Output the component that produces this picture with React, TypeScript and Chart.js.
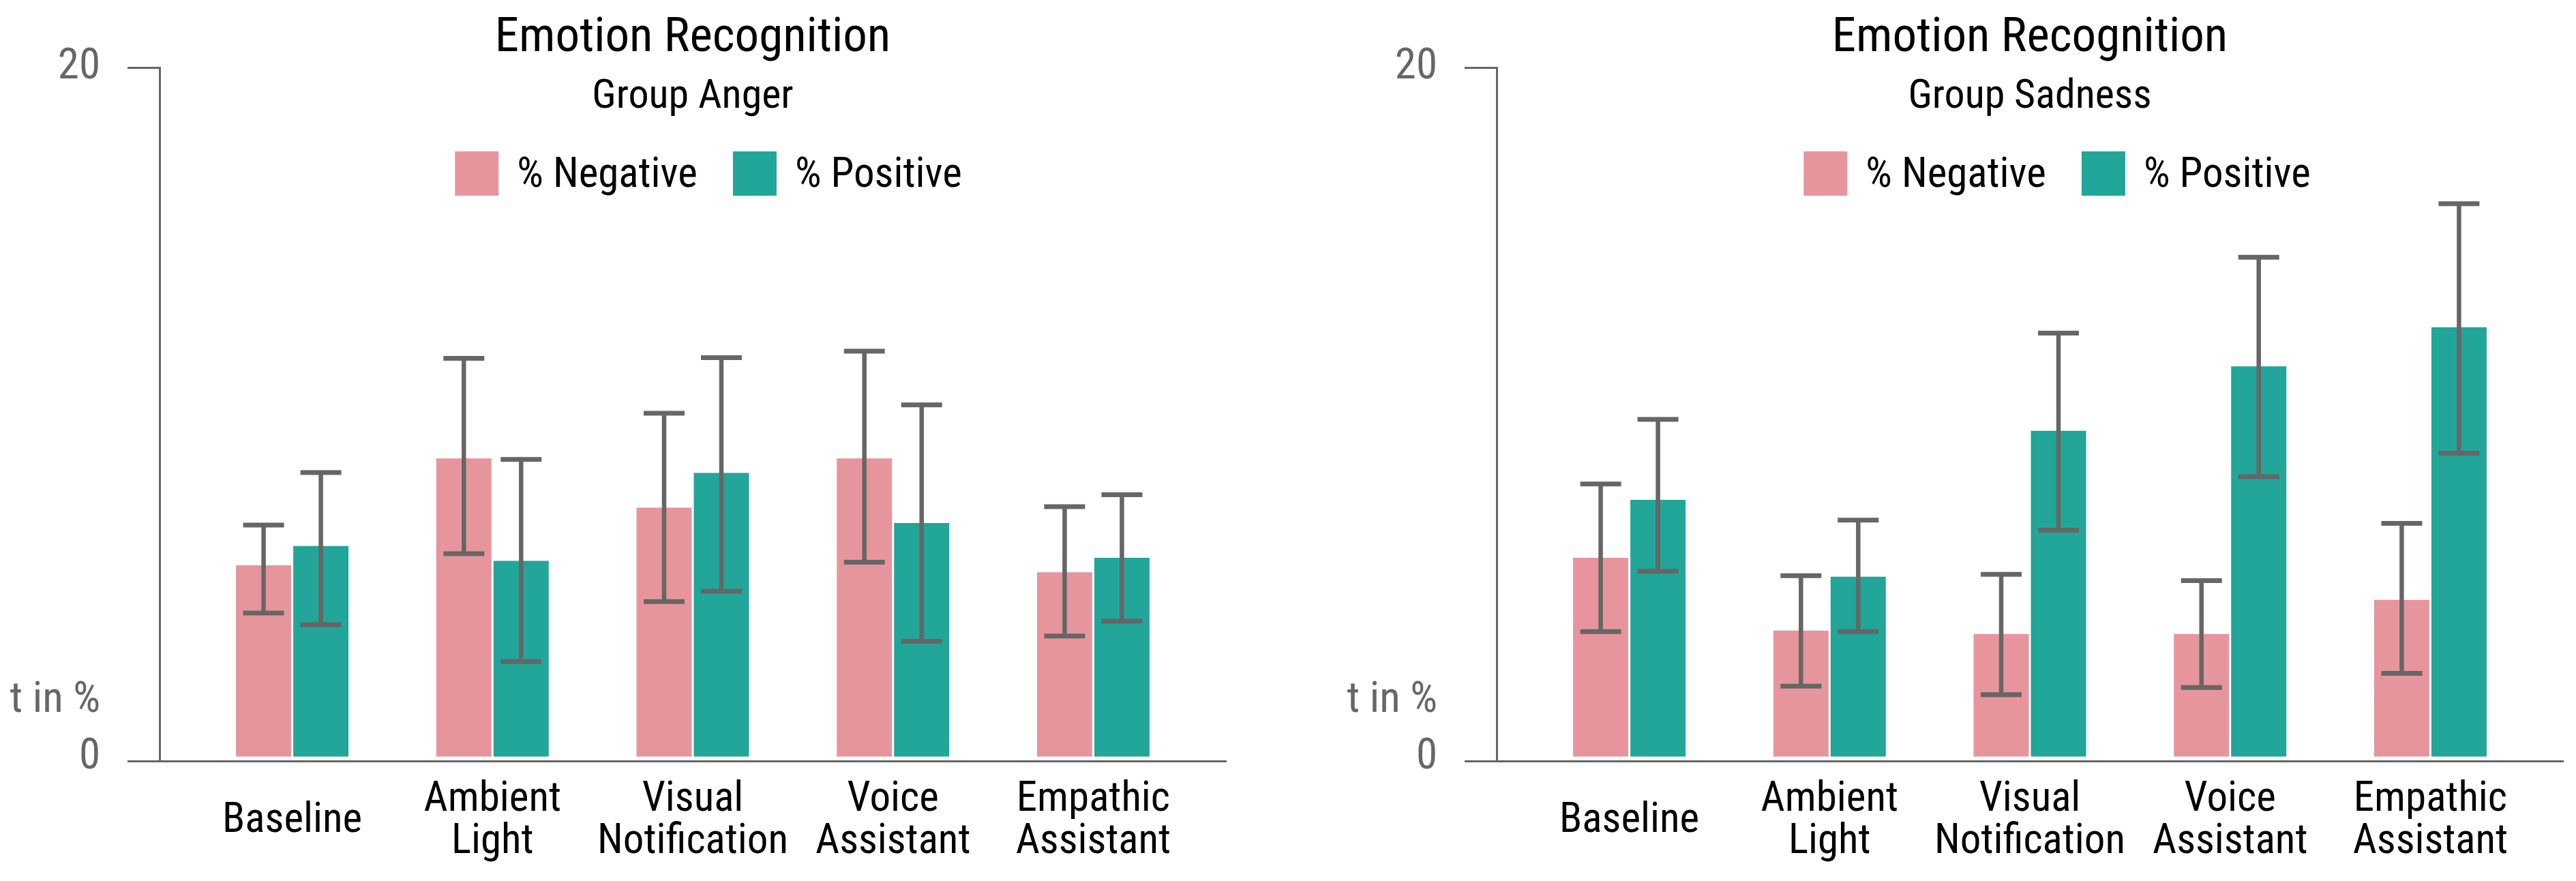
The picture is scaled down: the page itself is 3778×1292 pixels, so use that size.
import React, { useEffect, useRef } from "react";
import { Chart, registerables } from "chart.js";

Chart.register(...registerables);

const FONT = "'Liberation Sans Narrow', 'Roboto Condensed', 'DejaVu Sans Condensed', sans-serif";
const TEXT_WEIGHT = "normal";

// ---- data ----
const categoryLabels: string[][] = [
  ["Baseline"],
  ["Ambient", "Light"],
  ["Visual", "Notification"],
  ["Voice", "Assistant"],
  ["Empathic", "Assistant"],
];
const seriesNames = ["% Negative", "% Positive"];
const seriesColors = ["#E7959C", "#21A699"];

const yTickValues = [-0.1, 0, 1.64, 20];
const yTickLabels = ["", "0", "t in %", "20"];

const angerNegative = [5.57, 8.67, 7.24, 8.67, 5.37];
const angerNegLow = [4.19, 5.91, 4.52, 5.66, 3.52];
const angerNegHigh = [6.74, 11.57, 9.98, 11.78, 7.27];
const angerPositive = [6.13, 5.7, 8.25, 6.8, 5.79];
const angerPosLow = [3.85, 2.78, 4.82, 3.37, 3.95];
const angerPosHigh = [8.26, 8.64, 11.59, 10.22, 7.62];

const sadNegative = [5.79, 3.68, 3.58, 3.58, 4.57];
const sadNegLow = [3.65, 2.07, 1.82, 2.03, 2.44];
const sadNegHigh = [7.93, 5.27, 5.31, 5.13, 6.79];
const sadPositive = [7.47, 5.24, 9.47, 11.34, 12.47];
const sadPosLow = [5.4, 3.65, 6.59, 8.14, 8.82];
const sadPosHigh = [9.8, 6.88, 12.3, 14.5, 16.05];

const AXIS_COLOR = "#666666";

const errorBarPlugin = {
  id: "errorBars",
  afterDatasetsDraw(chart: any) {
    const ctx = chart.ctx;
    const yScale = chart.scales.y;
    ctx.save();
    ctx.strokeStyle = AXIS_COLOR;
    ctx.lineCap = "butt";
    chart.data.datasets.forEach((ds: any, di: number) => {
      const meta = chart.getDatasetMeta(di);
      meta.data.forEach((bar: any, j: number) => {
        const x = bar.x;
        const yl = yScale.getPixelForValue(ds.errLow[j]);
        const yh = yScale.getPixelForValue(ds.errHigh[j]);
        ctx.lineWidth = 6.5;
        ctx.beginPath();
        ctx.moveTo(x, yh);
        ctx.lineTo(x, yl);
        ctx.stroke();
        ctx.lineWidth = 7;
        ctx.beginPath();
        ctx.moveTo(x - 30, yh);
        ctx.lineTo(x + 30, yh);
        ctx.moveTo(x - 30, yl);
        ctx.lineTo(x + 30, yl);
        ctx.stroke();
      });
    });
    ctx.restore();
  },
};

const headerPlugin = {
  id: "header",
  afterDraw(chart: any, _args: any, opts: any) {
    const { ctx, chartArea } = chart;
    const cx = (chartArea.left + chartArea.right) / 2;
    ctx.save();
    ctx.fillStyle = "#000";
    ctx.textAlign = "center";
    ctx.textBaseline = "alphabetic";
    ctx.font = `${TEXT_WEIGHT} 71px ${FONT}`;
    ctx.fillText(opts.title, cx, 75);
    ctx.font = `${TEXT_WEIGHT} 60px ${FONT}`;
    ctx.fillText(opts.subtitle, cx, 158);

    ctx.font = `${TEXT_WEIGHT} 61px ${FONT}`;
    const box = 64;
    const gapText = 27;
    const gapItem = 52;
    const items = chart.data.datasets.map((ds: any) => ({
      label: ds.label,
      color: ds.backgroundColor,
      w: ctx.measureText(ds.label).width,
    }));
    let total = 0;
    items.forEach((it: any, i: number) => {
      total += box + gapText + it.w + (i > 0 ? gapItem : 0);
    });
    let x = cx + (opts.legendShift || 0) - total / 2;
    ctx.textAlign = "left";
    items.forEach((it: any) => {
      ctx.fillStyle = it.color;
      ctx.fillRect(x, 222, box, 65);
      ctx.fillStyle = "#000";
      ctx.fillText(it.label, x + box + gapText, 274);
      x += box + gapText + it.w + gapItem;
    });
    ctx.restore();
  },
};

type PanelProps = {
  title: string;
  subtitle: string;
  neg: number[];
  negLow: number[];
  negHigh: number[];
  pos: number[];
  posLow: number[];
  posHigh: number[];
  left: number;
  legendShift: number;
};

function Panel(p: PanelProps) {
  const ref = useRef<HTMLCanvasElement | null>(null);
  useEffect(() => {
    if (!ref.current) return;
    const chart = new Chart(ref.current, {
      type: "bar",
      data: {
        datasets: [
          {
            label: seriesNames[0],
            data: p.neg.map((v, i) => ({ x: i, y: v })),
            backgroundColor: seriesColors[0],
            borderWidth: 0,
            errLow: p.negLow,
            errHigh: p.negHigh,
          } as any,
          {
            label: seriesNames[1],
            data: p.pos.map((v, i) => ({ x: i, y: v })),
            backgroundColor: seriesColors[1],
            borderWidth: 0,
            errLow: p.posLow,
            errHigh: p.posHigh,
          } as any,
        ],
      },
      options: {
        responsive: false,
        animation: false,
        devicePixelRatio: 1,
        categoryPercentage: 0.572,
        barPercentage: 0.964,
        layout: { padding: { top: 99, right: 18, left: 0, bottom: 0 } },
        plugins: {
          legend: { display: false },
          title: { display: false },
          tooltip: { enabled: false },
          header: { title: p.title, subtitle: p.subtitle, legendShift: p.legendShift },
        } as any,
        scales: {
          x: {
            type: "linear",
            offset: false,
            min: -0.6625,
            max: 4.6625,
            afterBuildTicks: (s: any) => {
              s.ticks = categoryLabels.map((_, i) => ({ value: i }));
            },
            afterFit: (s: any) => {
              s.height = 176;
            },
            grid: { display: false, drawTicks: false },
            border: { display: true, color: AXIS_COLOR, width: 3 },
            ticks: {
              autoSkip: false,
              maxRotation: 0,
              minRotation: 0,
              crossAlign: "center",
              padding: 58,
              color: "#000",
              font: { family: FONT, size: 61, weight: TEXT_WEIGHT, lineHeight: 1.02 },
              callback: (v: any) => categoryLabels[Math.round(Number(v))] as any,
            },
          },
          y: {
            type: "linear",
            min: -0.1,
            max: 20,
            afterBuildTicks: (s: any) => {
              s.ticks = yTickValues.map((v) => ({ value: v }));
            },
            afterFit: (s: any) => {
              s.width = 234;
            },
            grid: {
              display: true,
              drawOnChartArea: false,
              drawTicks: true,
              tickLength: 47,
              tickWidth: 3,
              lineWidth: 3,
              color: AXIS_COLOR,
              tickColor: (c: any) =>
                c.index === 0 || c.index === yTickValues.length - 1 ? AXIS_COLOR : "rgba(0,0,0,0)",
            },
            border: { display: true, color: AXIS_COLOR, width: 3 },
            ticks: {
              autoSkip: false,
              padding: 40,
              color: AXIS_COLOR,
              font: { family: FONT, size: 63, lineHeight: 1 },
              callback: (_v: any, i: number) => yTickLabels[i],
            },
          },
        },
      } as any,
      plugins: [errorBarPlugin, headerPlugin],
    });
    return () => chart.destroy();
  }, []);
  return (
    <div style={{ position: "absolute", left: p.left, top: 0, width: 1816, height: 1292 }}>
      <canvas ref={ref} width={1816} height={1292} style={{ width: 1816, height: 1292, display: "block" }} />
    </div>
  );
}

export default function App() {
  return (
    <div style={{ position: "fixed", left: 0, top: 0, width: 3778, height: 1292, background: "#fff", overflow: "hidden" }}>
      <Panel
        title="Emotion Recognition"
        subtitle="Group Anger"
        neg={angerNegative}
        negLow={angerNegLow}
        negHigh={angerNegHigh}
        pos={angerPositive}
        posLow={angerPosLow}
        posHigh={angerPosHigh}
        left={0}
        legendShift={23}
      />
      <Panel
        title="Emotion Recognition"
        subtitle="Group Sadness"
        neg={sadNegative}
        negLow={sadNegLow}
        negHigh={sadNegHigh}
        pos={sadPositive}
        posLow={sadPosLow}
        posHigh={sadPosHigh}
        left={1961}
        legendShift={40}
      />
    </div>
  );
}
